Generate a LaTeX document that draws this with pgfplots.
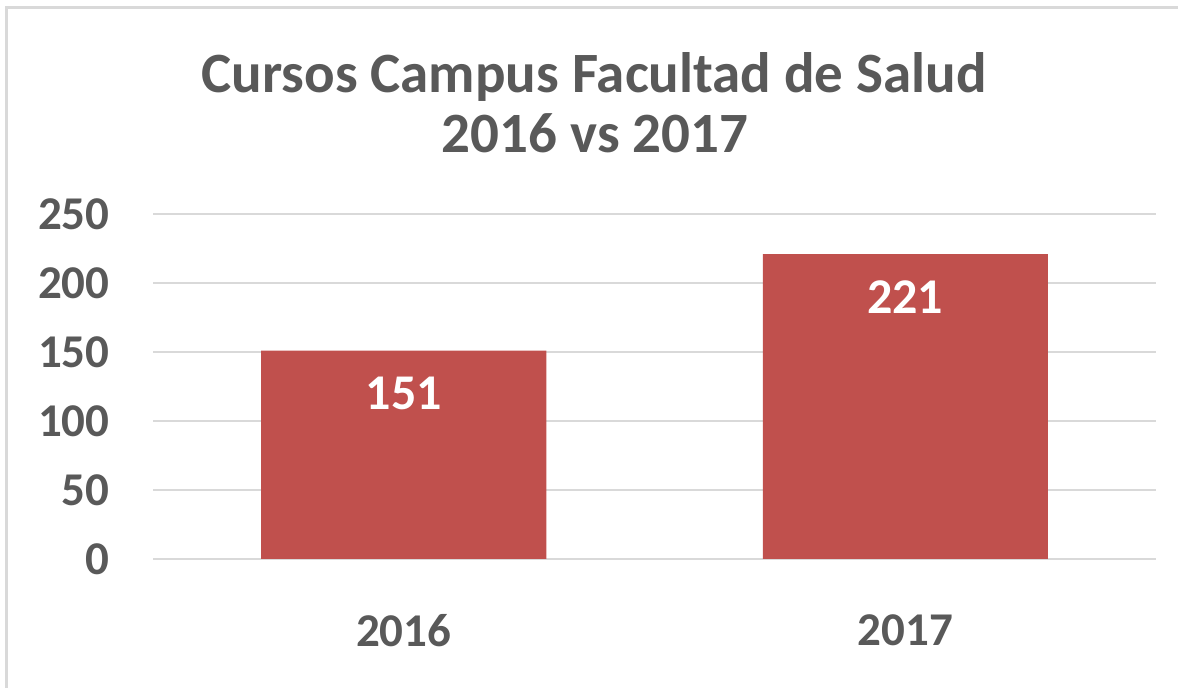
\documentclass[border=0pt]{standalone}
\usepackage{pgfplots}
\pgfplotsset{compat=1.18}
\usepackage{fontspec}
\setmainfont{Carlito}
\definecolor{barred}{HTML}{C0504D}
\definecolor{txtgray}{HTML}{595959}
\definecolor{gridgray}{HTML}{D9D9D9}
\begin{document}
\begin{tikzpicture}[x=1pt,y=1pt]
  \path[use as bounding box] (0,0) rectangle (1178,688);
  % frame, only top and left edges visible
  \draw[gridgray, line width=3pt] (6,0) -- (6,680) -- (1178,680);
  % title
  \node[anchor=base, text=txtgray, font=\fontsize{57}{68}\selectfont\bfseries] at (594,595) {Cursos Campus Facultad de Salud};
  \node[anchor=base, text=txtgray, font=\fontsize{57}{68}\selectfont\bfseries] at (595,535) {2016 vs 2017};
  \begin{axis}[
    at={(153pt,129pt)}, anchor=south west,
    scale only axis,
    width=1003pt, height=345pt,
    ybar, bar width=285pt,
    xmin=-0.5, xmax=1.5,
    ymin=0, ymax=250,
    xtick=data,
    xticklabels={2016,2017},
    ytick={0,50,100,150,200,250},
    axis line style={draw=none},
    major tick length=0pt,
    ymajorgrids,
    grid style={gridgray, line width=2pt},
    /pgf/number format/assume math mode=true,
    ticklabel style={text=txtgray, font=\fontsize{47}{56}\selectfont\bfseries},
    yticklabel style={anchor=east, xshift=-40pt},
    xticklabel style={anchor=north, yshift=-52pt},
    nodes near coords,
    every node near coord/.append style={anchor=north, text=white, yshift=-23pt,
      font=\fontsize{50}{60}\selectfont\bfseries},
  ]
    \addplot[fill=barred, draw=none] coordinates {(0,151) (1,221)};
  \end{axis}
\end{tikzpicture}
\end{document}
